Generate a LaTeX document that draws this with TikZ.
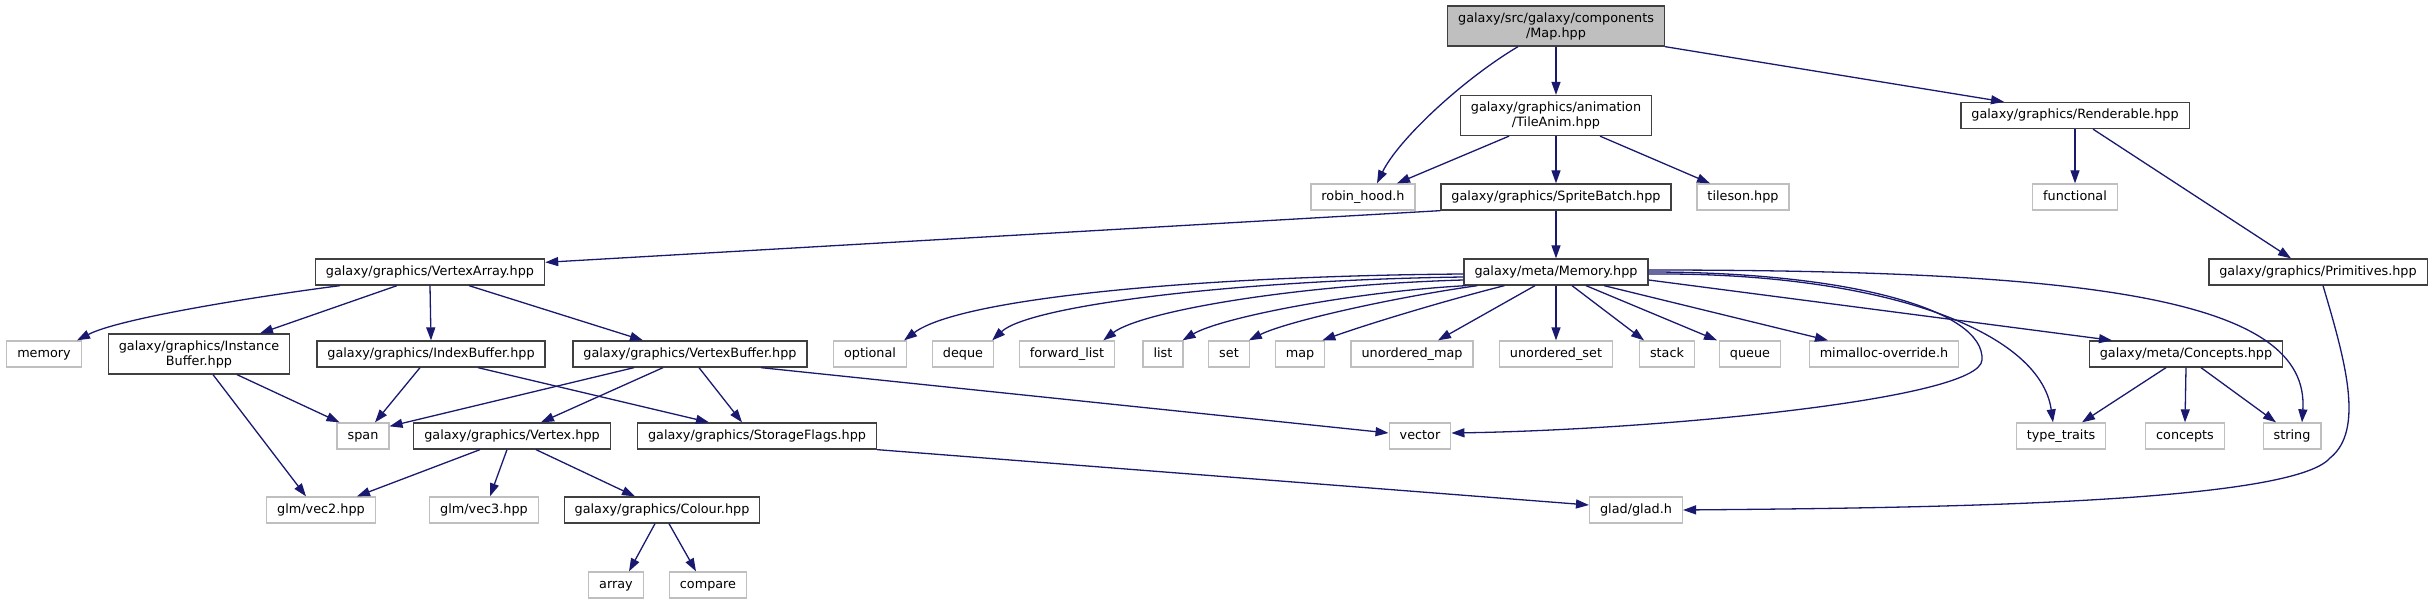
\documentclass[tikz,border=0pt]{standalone}
\usepackage{fontspec}
\setsansfont{DejaVu Sans}
\usepackage{tikz}
\usetikzlibrary{arrows.meta}
\definecolor{edgeblue}{HTML}{191970}
\definecolor{docline}{HTML}{404040}
\definecolor{extline}{HTML}{BFBFBF}
\definecolor{rootfill}{HTML}{BFBFBF}

\begin{document}
\begin{tikzpicture}[x=1pt,y=-1pt,font=\sffamily\fontsize{12.8}{15}\selectfont,
  box/.style={rectangle,line width=1.3pt,inner xsep=10.5pt,inner ysep=0pt},
  doc/.style={box,draw=docline,fill=white},
  ext/.style={box,draw=extline},
  one/.style={minimum height=26pt,text height=9.6pt,text depth=2.8pt},
  two/.style={minimum height=40pt,align=center},
  dep/.style={draw=edgeblue,line width=1.3pt,-{Triangle[length=13pt,width=9pt]}}]
\useasboundingbox (0,0) rectangle (2434,604);
% rank 0 and 1
\node[doc,two,fill=rootfill] (root) at (1556,26) {galaxy/src/galaxy/components\\/Map.hpp};
\node[doc,two] (tileanim) at (1556,115.5) {galaxy/graphics/animation\\/TileAnim.hpp};
\node[doc,one] (renderable) at (2075,115.5) {galaxy/graphics/Renderable.hpp};
% rank 2
\node[ext,one] (robin) at (1363,197) {robin\_hood.h};
\node[doc,one] (sprite) at (1556,197) {galaxy/graphics/SpriteBatch.hpp};
\node[ext,one] (tileson) at (1743,197) {tileson.hpp};
\node[ext,one] (functional) at (2075,197) {functional};
% rank 3
\node[doc,one] (varray) at (430,272) {galaxy/graphics/VertexArray.hpp};
\node[doc,one] (memory) at (1556,272) {galaxy/meta/Memory.hpp};
\node[doc,one] (primitives) at (2318,272) {galaxy/graphics/Primitives.hpp};
% rank 4
\node[ext,one] (stdmemory) at (44,354) {memory};
\node[doc,two] (ibuffer) at (199,354) {galaxy/graphics/Instance\\Buffer.hpp};
\node[doc,one] (indexbuf) at (431,354) {galaxy/graphics/IndexBuffer.hpp};
\node[doc,one] (vbuffer) at (690,354) {galaxy/graphics/VertexBuffer.hpp};
\node[ext,one] (optional) at (870,354) {optional};
\node[ext,one] (deque) at (963,354) {deque};
\node[ext,one] (fwdlist) at (1067,354) {forward\_list};
\node[ext,one] (stdlist) at (1163,354) {list};
\node[ext,one] (stdset) at (1229,354) {set};
\node[ext,one] (stdmap) at (1300,354) {map};
\node[ext,one] (umap) at (1412,354) {unordered\_map};
\node[ext,one] (uset) at (1556,354) {unordered\_set};
\node[ext,one] (stack) at (1667,354) {stack};
\node[ext,one] (queue) at (1750,354) {queue};
\node[ext,one] (mimalloc) at (1884,354) {mimalloc-override.h};
\node[doc,one] (concepthpp) at (2186,354) {galaxy/meta/Concepts.hpp};
% rank 5
\node[ext,one] (span) at (363,436) {span};
\node[doc,one] (vertex) at (512,436) {galaxy/graphics/Vertex.hpp};
\node[doc,one] (storage) at (757,436) {galaxy/graphics/StorageFlags.hpp};
\node[ext,one] (vector) at (1420,436) {vector};
\node[ext,one] (traits) at (2061,436) {type\_traits};
\node[ext,one] (concepts) at (2185,436) {concepts};
\node[ext,one] (string) at (2292,436) {string};
% rank 6 and 7
\node[ext,one] (vec2) at (321,510) {glm/vec2.hpp};
\node[ext,one] (vec3) at (484,510) {glm/vec3.hpp};
\node[doc,one] (colour) at (662,510) {galaxy/graphics/Colour.hpp};
\node[ext,one] (glad) at (1636,510) {glad/glad.h};
\node[ext,one] (array) at (616,585) {array};
\node[ext,one] (compare) at (708,585) {compare};

\draw[dep] ([xshift=-38pt]root.south) .. controls (1462,80) and (1398,140) .. ([xshift=14pt]robin.north);
\draw[dep] (root.south) -- (tileanim.north);
\draw[dep] (root.south east) -- ([xshift=-71pt]renderable.north);
\draw[dep] ([xshift=-47pt]tileanim.south) -- ([xshift=34pt]robin.north);
\draw[dep] (tileanim.south) -- (sprite.north);
\draw[dep] ([xshift=44pt]tileanim.south) -- ([xshift=-33pt]tileson.north);
\draw[dep] (renderable.south) -- (functional.north);
\draw[dep] ([xshift=18pt]renderable.south) -- ([xshift=-27pt]primitives.north);
\draw[dep] (sprite.south west) -- ([yshift=-4pt]varray.north east);
\draw[dep] (sprite.south) -- (memory.north);
\draw[dep] ([xshift=5pt]primitives.south) .. controls (2345,360) and (2365,430) .. (2330,458)
  .. controls (2290,505) and (1900,508) .. (glad.east);

\draw[dep] ([xshift=-90pt]varray.south) .. controls (260,296) and (120,318) .. ([xshift=33pt]stdmemory.north);
\draw[dep] ([xshift=-33pt]varray.south) -- ([xshift=61pt]ibuffer.north);
\draw[dep] (varray.south) -- (indexbuf.north);
\draw[dep] ([xshift=39pt]varray.south) -- ([xshift=-47pt]vbuffer.north);

\draw[dep] ([yshift=-2pt]memory.west) .. controls (1200,276) and (960,298) .. ([xshift=-3pt]optional.north east);
\draw[dep] ([yshift=-5pt]memory.west) .. controls (1240,280) and (1030,305) .. ([xshift=-2pt]deque.north east);
\draw[dep] ([yshift=-8pt]memory.west) .. controls (1290,285) and (1140,312) .. ([xshift=-12pt]fwdlist.north east);
\draw[dep] ([xshift=3pt]memory.south west) .. controls (1350,292) and (1220,318) .. ([xshift=-1pt]stdlist.north east);
\draw[dep] ([xshift=14pt]memory.south west) .. controls (1390,298) and (1285,322) .. ([xshift=-1pt]stdset.north east);
\draw[dep] ([xshift=41pt]memory.south west) .. controls (1440,302) and (1365,325) .. ([xshift=-3pt]stdmap.north east);
\draw[dep] ([xshift=-21pt]memory.south) -- ([xshift=26pt]umap.north);
\draw[dep] (memory.south) -- (uset.north);
\draw[dep] ([xshift=16pt]memory.south) -- ([xshift=-23pt]stack.north);
\draw[dep] ([xshift=30pt]memory.south) -- ([xshift=-33pt]queue.north);
\draw[dep] ([xshift=48pt]memory.south) -- ([xshift=-56pt]mimalloc.north);
\draw[dep] ([yshift=-8pt]memory.east) -- ([xshift=-74pt]concepthpp.north);
\draw[dep] ([yshift=-2pt]memory.east) .. controls (1880,272) and (2040,330) .. ([xshift=-8pt]traits.north);
\draw[dep] ([yshift=2pt]memory.east) .. controls (2100,270) and (2310,300) .. ([xshift=10pt]string.north);
\draw[dep] (memory.east) .. controls (1850,272) and (1985,310) .. (1982,360)
  .. controls (1980,400) and (1650,430) .. ([yshift=3pt]vector.east);

\draw[dep] ([xshift=38pt]ibuffer.south) -- ([xshift=3pt]span.north west);
\draw[dep] ([xshift=14pt]ibuffer.south) -- ([xshift=-15pt]vec2.north);
\draw[dep] ([xshift=-11pt]indexbuf.south) -- ([xshift=12pt]span.north);
\draw[dep] ([xshift=47pt]indexbuf.south) -- ([xshift=-48pt]storage.north);
\draw[dep] ([xshift=-56pt]vbuffer.south) -- ([yshift=-4pt]span.north east);
\draw[dep] ([xshift=-27pt]vbuffer.south) -- ([xshift=29pt]vertex.north);
\draw[dep] ([xshift=9pt]vbuffer.south) -- ([xshift=-15pt]storage.north);
\draw[dep] ([xshift=71pt]vbuffer.south) -- ([yshift=3pt]vector.west);

\draw[dep] ([xshift=-32pt]vertex.south) -- ([xshift=36pt]vec2.north);
\draw[dep] ([xshift=-5pt]vertex.south) -- ([xshift=6pt]vec3.north);
\draw[dep] ([xshift=24pt]vertex.south) -- ([xshift=-27pt]colour.north);
\draw[dep] ([xshift=-7pt]colour.south) -- ([xshift=13pt]array.north);
\draw[dep] ([xshift=7pt]colour.south) -- ([xshift=-12pt]compare.north);
\draw[dep] (storage.south east) -- ([yshift=5pt]glad.west);
\draw[dep] ([xshift=-20pt]concepthpp.south) -- ([xshift=21pt]traits.north);
\draw[dep] (concepthpp.south) -- (concepts.north);
\draw[dep] ([xshift=15pt]concepthpp.south) -- ([xshift=-16pt]string.north);
\end{tikzpicture}
\end{document}
